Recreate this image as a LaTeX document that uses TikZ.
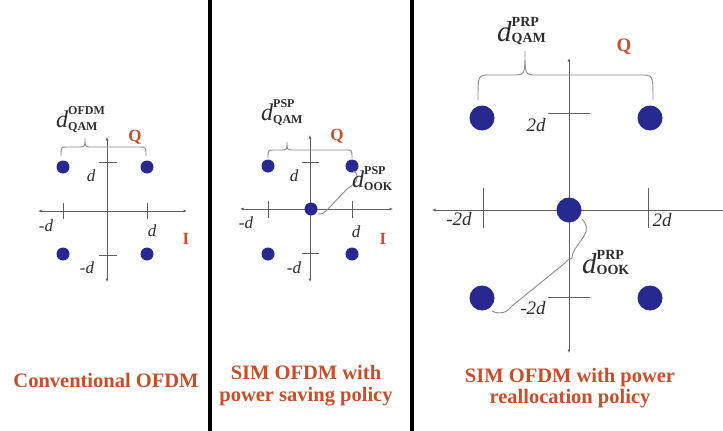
\documentclass[tikz,border=0pt]{standalone}
\usepackage{fontspec}
\setmainfont{Liberation Serif}
\usetikzlibrary{arrows.meta}
\definecolor{dotblue}{RGB}{40,40,145}
\definecolor{lblred}{RGB}{200,78,42}
\definecolor{axisgray}{RGB}{95,95,95}
\definecolor{bracegray}{RGB}{140,140,140}
\definecolor{labgray}{RGB}{45,45,45}
\newcommand{\dsym}[6]{{\fontsize{#1}{#1}\selectfont\itshape d}\rlap{\raisebox{#5}{\fontsize{#2}{#2}\selectfont\bfseries #3}}\raisebox{-#6}{\fontsize{#2}{#2}\selectfont\bfseries #4}}
\newcommand{\qambrace}[7]{\draw[brace] (#1,#4) .. controls (#1,#5) .. (#1+#7,#5) -- (#3-#7,#5) .. controls (#3,#5) .. (#3,#6) .. controls (#3,#5) .. (#3+#7,#5) -- (#2-#7,#5) .. controls (#2,#5) .. (#2,#4);}
\begin{document}
\begin{tikzpicture}[x=1pt,y=-1pt,
  axis/.style={draw=axisgray, line width=0.9pt, {Latex[length=3.5pt,width=3pt]}-{Latex[length=3.5pt,width=3pt]}},
  axisL/.style={draw=axisgray, line width=0.9pt, {Latex[length=3.5pt,width=3pt]}-},
  tickmark/.style={draw=axisgray, line width=0.9pt},
  brace/.style={draw=bracegray, line width=0.9pt},
  dotS/.style={circle, fill=dotblue, minimum size=13pt, inner sep=0pt},
  dotL/.style={circle, fill=dotblue, minimum size=25pt, inner sep=0pt},
  lab/.style={inner sep=0pt, text=labgray, font=\fontsize{17}{17}\selectfont\itshape},
  labL/.style={inner sep=0pt, text=labgray, font=\fontsize{19}{19}\selectfont\itshape},
  axlab/.style={inner sep=0pt, text=lblred, font=\fontsize{17}{17}\selectfont\bfseries},
  axlabL/.style={inner sep=0pt, text=lblred, font=\fontsize{19}{19}\selectfont\bfseries},
  dlab/.style={inner sep=0pt, text=labgray, anchor=base west},
  captionline/.style={inner sep=0pt, text=lblred, font=\fontsize{20.5}{22}\selectfont\bfseries, anchor=base},
  divider/.style={draw=black, line width=4.5pt}]
\useasboundingbox (0,0) rectangle (723,431);
\fill[white] (0,0) rectangle (723,431);
% dividers
\coordinate (v1t) at (210,0); \coordinate (v1b) at (210,431);
\coordinate (v2t) at (412,0); \coordinate (v2b) at (412,431);
\draw[divider] (v1t) -- (v1b);
\draw[divider] (v2t) -- (v2b);

% ---------- panel 1 ----------
\coordinate (a1L) at (38,211); \coordinate (a1R) at (187,211);
\coordinate (a1T) at (107,137); \coordinate (a1B) at (107,282);
\draw[axis] (a1L) -- (a1R);
\draw[axis] (a1T) -- (a1B);
\draw[tickmark] (63,203) -- (63,219);
\draw[tickmark] (147,203) -- (147,219);
\draw[tickmark] (99,162) -- (117,162);
\draw[tickmark] (99,255) -- (117,255);
\node[dotS] (p1a) at (63,167) {};
\node[dotS] (p1b) at (147,167) {};
\node[dotS] (p1c) at (63,254) {};
\node[dotS] (p1d) at (147,254) {};
\qambrace{61}{146}{85}{156}{147}{138}{6}
\node[dlab] (dq1) at (56,127) {\dsym{24}{12}{OFDM}{QAM}{13pt}{3pt}};
\node[axlab] (q1) at (135,137) {Q};
\node[axlab] (i1) at (186,239) {I};
\node[lab] (t1a) at (91,176) {d};
\node[lab] (t1b) at (46,226) {-d};
\node[lab] (t1c) at (152,231) {d};
\node[lab] (t1d) at (87,268) {-d};
\node[captionline] (c1) at (106,387) {Conventional OFDM};

% ---------- panel 2 ----------
\coordinate (a2L) at (240,209); \coordinate (a2R) at (393,209);
\coordinate (a2T) at (310,135); \coordinate (a2B) at (310,282);
\draw[axis] (a2L) -- (a2R);
\draw[axis] (a2T) -- (a2B);
\draw[tickmark] (268,201) -- (268,218);
\draw[tickmark] (352,201) -- (352,218);
\draw[tickmark] (302,162) -- (319,162);
\draw[tickmark] (302,253) -- (319,253);
\node[dotS] (p2a) at (268,166) {};
\node[dotS] (p2b) at (352,166) {};
\node[dotS] (p2c) at (268,254) {};
\node[dotS] (p2d) at (352,254) {};
\node[dotS] (p2o) at (311,209) {};
\qambrace{268}{352}{287}{158}{150}{142}{6}
\draw[brace] (318,214) .. controls (322,214) and (324,213) .. (326,211) -- (347,189) .. controls (349,187) and (352,186) .. (354,184) .. controls (356,182) and (357,180) .. (357,178) -- (357,176) .. controls (357,173) and (355,171) .. (353,171);
\node[dlab] (dq2) at (261,120) {\dsym{24}{12}{PSP}{QAM}{13pt}{3pt}};
\node[dlab] (do2) at (352,187) {\dsym{24}{12}{PSP}{OOK}{13pt}{3pt}};
\node[axlab] (q2) at (337,136) {Q};
\node[axlab] (i2) at (383,239) {I};
\node[lab] (t2a) at (294,176) {d};
\node[lab] (t2b) at (246,223) {-d};
\node[lab] (t2c) at (356,232) {d};
\node[lab] (t2d) at (294,268) {-d};
\node[captionline] (c2a) at (306,379) {SIM OFDM with};
\node[captionline] (c2b) at (306,401) {power saving policy};

% ---------- panel 3 ----------
\coordinate (a3L) at (432,210); \coordinate (a3R) at (723,210);
\coordinate (a3T) at (569,58); \coordinate (a3B) at (569,353);
\draw[axisL] (a3L) -- (a3R);
\draw[axis] (a3T) -- (a3B);
\draw[tickmark] (483,188) -- (483,228);
\draw[tickmark] (648,188) -- (648,228);
\draw[tickmark] (548,113) -- (590,113);
\draw[tickmark] (548,297) -- (590,297);
\node[dotL] (p3a) at (482,118) {};
\node[dotL] (p3b) at (650,118) {};
\node[dotL] (p3c) at (482,298) {};
\node[dotL] (p3d) at (650,298) {};
\node[dotL] (p3o) at (569,210) {};
\qambrace{478}{653}{525}{100}{75}{51}{12}
\draw[brace] (582,219) .. controls (587,224) and (588,230) .. (584,236) -- (575,249) .. controls (573,252) and (572,255) .. (572,258) .. controls (570,259) and (567,260) .. (565,263) -- (512,306) .. controls (506,313) and (500,315) .. (492,311);
\node[dlab] (dq3) at (497,41) {\dsym{29}{14}{PRP}{QAM}{14pt}{1.5pt}};
\node[dlab] (do3) at (582,273) {\dsym{29}{14}{PRP}{OOK}{14pt}{1.5pt}};
\node[axlabL] (q3) at (624,47) {Q};
\node[labL] (t3a) at (536,125) {2d};
\node[labL] (t3b) at (459,219) {-2d};
\node[labL] (t3c) at (662,220) {2d};
\node[labL] (t3d) at (533,308) {-2d};
\node[captionline] (c3a) at (570,382) {SIM OFDM with power};
\node[captionline] (c3b) at (570,403) {reallocation policy};
\end{tikzpicture}
\end{document}
